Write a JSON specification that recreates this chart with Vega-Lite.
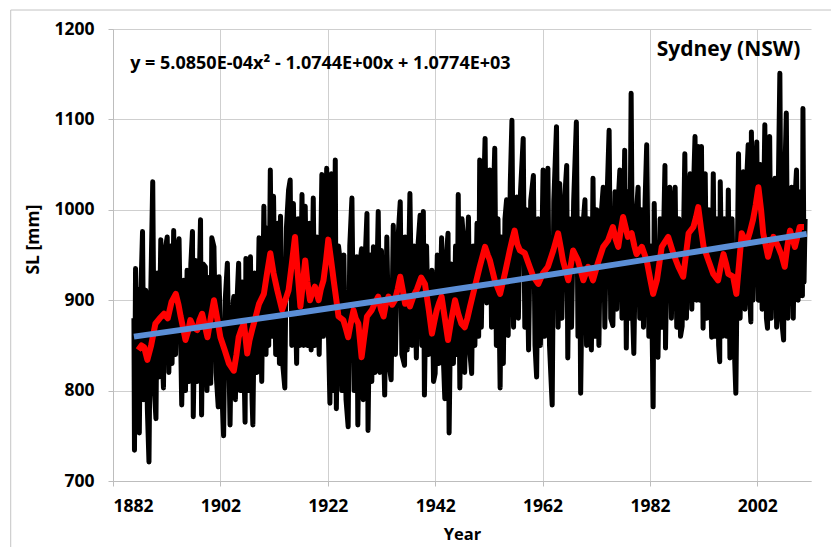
{
  "$schema": "https://vega.github.io/schema/vega-lite/v6.json",
  "width": 698,
  "height": 452,
  "autosize": {"type": "none"},
  "padding": {"left": 113, "top": 29, "right": 20, "bottom": 66},
  "background": "white",
  "datasets": {
    "monthly": [
      {"year":1885.9,"sl":880},{"year":1886.0,"sl":734},{"year":1886.2,"sl":935},{"year":1886.45,"sl":775},{"year":1886.65,"sl":912},{"year":1886.9,"sl":753},
      {"year":1887.15,"sl":900},{"year":1887.5,"sl":976},{"year":1887.75,"sl":790},{"year":1888.1,"sl":911},{"year":1888.4,"sl":780},{"year":1888.7,"sl":721},
      {"year":1888.95,"sl":880},{"year":1889.4,"sl":1031},{"year":1889.7,"sl":800},{"year":1890.0,"sl":769},{"year":1890.25,"sl":930},{"year":1890.55,"sl":815},
      {"year":1890.9,"sl":967},{"year":1891.15,"sl":840},{"year":1891.4,"sl":803},{"year":1891.7,"sl":955},{"year":1892.1,"sl":970},{"year":1892.4,"sl":820},
      {"year":1892.75,"sl":960},{"year":1893.0,"sl":830},{"year":1893.3,"sl":977},{"year":1893.65,"sl":840},{"year":1894.0,"sl":955},{"year":1894.3,"sl":968},
      {"year":1894.8,"sl":784},{"year":1895.2,"sl":922},{"year":1895.5,"sl":800},{"year":1895.8,"sl":933},{"year":1896.2,"sl":810},{"year":1896.5,"sl":940},
      {"year":1896.8,"sl":976},{"year":1896.95,"sl":771},{"year":1897.4,"sl":944},{"year":1897.7,"sl":810},{"year":1898.3,"sl":989},{"year":1898.5,"sl":773},
      {"year":1898.8,"sl":940},{"year":1899.2,"sl":937},{"year":1899.5,"sl":800},{"year":1899.8,"sl":925},{"year":1900.2,"sl":808},{"year":1900.4,"sl":969},
      {"year":1900.8,"sl":959},{"year":1901.2,"sl":820},{"year":1901.6,"sl":782},{"year":1901.75,"sl":926},{"year":1902.2,"sl":810},{"year":1902.6,"sl":750},
      {"year":1902.9,"sl":900},{"year":1903.3,"sl":941},{"year":1903.8,"sl":762},{"year":1904.1,"sl":880},{"year":1904.5,"sl":904},{"year":1904.8,"sl":790},
      {"year":1905.1,"sl":900},{"year":1905.4,"sl":941},{"year":1905.7,"sl":800},{"year":1906.1,"sl":920},{"year":1906.6,"sl":765},{"year":1906.75,"sl":946},
      {"year":1907.1,"sl":800},{"year":1907.6,"sl":948},{"year":1907.9,"sl":790},{"year":1908.05,"sl":762},{"year":1908.4,"sl":930},{"year":1908.8,"sl":820},
      {"year":1909.2,"sl":969},{"year":1909.7,"sl":810},{"year":1910.1,"sl":1004},{"year":1910.5,"sl":840},{"year":1910.8,"sl":980},{"year":1911.0,"sl":850},
      {"year":1911.3,"sl":1044},{"year":1911.6,"sl":860},{"year":1911.9,"sl":1015},{"year":1912.3,"sl":840},{"year":1912.7,"sl":985},{"year":1913.0,"sl":830},
      {"year":1913.2,"sl":993},{"year":1913.6,"sl":830},{"year":1914.0,"sl":803},{"year":1914.3,"sl":980},{"year":1914.7,"sl":1022},{"year":1915.0,"sl":1033},
      {"year":1915.3,"sl":850},{"year":1915.6,"sl":1007},{"year":1916.2,"sl":830},{"year":1916.5,"sl":990},{"year":1916.8,"sl":850},{"year":1917.2,"sl":1017},
      {"year":1917.5,"sl":850},{"year":1917.8,"sl":1004},{"year":1918.2,"sl":850},{"year":1918.6,"sl":985},{"year":1918.9,"sl":845},{"year":1919.3,"sl":1013},
      {"year":1919.6,"sl":850},{"year":1920.0,"sl":970},{"year":1920.4,"sl":840},{"year":1920.9,"sl":1039},{"year":1921.2,"sl":860},{"year":1921.8,"sl":1046},
      {"year":1922.1,"sl":870},{"year":1922.4,"sl":786},{"year":1922.7,"sl":1040},{"year":1923.0,"sl":800},{"year":1923.4,"sl":1055},{"year":1923.6,"sl":780},
      {"year":1924.0,"sl":960},{"year":1924.3,"sl":944},{"year":1924.6,"sl":800},{"year":1925.0,"sl":950},{"year":1925.4,"sl":790},{"year":1925.8,"sl":760},
      {"year":1926.1,"sl":960},{"year":1926.5,"sl":1013},{"year":1926.9,"sl":800},{"year":1927.4,"sl":948},{"year":1927.6,"sl":762},{"year":1928.0,"sl":940},
      {"year":1928.3,"sl":957},{"year":1928.6,"sl":790},{"year":1929.0,"sl":950},{"year":1929.3,"sl":996},{"year":1929.5,"sl":756},{"year":1929.9,"sl":950},
      {"year":1930.2,"sl":810},{"year":1930.5,"sl":959},{"year":1930.8,"sl":820},{"year":1931.4,"sl":998},{"year":1931.7,"sl":820},{"year":1932.0,"sl":955},
      {"year":1932.6,"sl":795},{"year":1933.0,"sl":970},{"year":1933.4,"sl":830},{"year":1933.8,"sl":812},{"year":1934.2,"sl":983},{"year":1934.6,"sl":840},
      {"year":1935.0,"sl":960},{"year":1935.5,"sl":1009},{"year":1935.8,"sl":840},{"year":1936.3,"sl":828},{"year":1936.4,"sl":970},{"year":1936.8,"sl":845},
      {"year":1937.3,"sl":1018},{"year":1937.7,"sl":850},{"year":1938.1,"sl":960},{"year":1938.5,"sl":836},{"year":1938.8,"sl":960},{"year":1939.2,"sl":994},
      {"year":1939.5,"sl":850},{"year":1939.8,"sl":998},{"year":1940.0,"sl":795},{"year":1940.4,"sl":960},{"year":1940.8,"sl":840},{"year":1941.4,"sl":933},
      {"year":1941.7,"sl":810},{"year":1942.0,"sl":819},{"year":1942.4,"sl":950},{"year":1942.7,"sl":830},{"year":1943.2,"sl":969},{"year":1943.5,"sl":840},
      {"year":1943.8,"sl":791},{"year":1944.1,"sl":950},{"year":1944.4,"sl":974},{"year":1944.6,"sl":753},{"year":1945.0,"sl":940},{"year":1945.4,"sl":830},
      {"year":1945.8,"sl":960},{"year":1946.1,"sl":840},{"year":1946.3,"sl":1017},{"year":1946.6,"sl":803},{"year":1947.0,"sl":990},{"year":1947.2,"sl":974},
      {"year":1947.5,"sl":820},{"year":1947.9,"sl":940},{"year":1948.2,"sl":992},{"year":1948.5,"sl":840},{"year":1948.8,"sl":819},{"year":1949.1,"sl":960},
      {"year":1949.4,"sl":850},{"year":1949.8,"sl":985},{"year":1950.1,"sl":860},{"year":1950.3,"sl":1055},{"year":1950.6,"sl":870},{"year":1951.0,"sl":1010},
      {"year":1951.3,"sl":1079},{"year":1951.6,"sl":897},{"year":1951.9,"sl":1020},{"year":1952.2,"sl":1044},{"year":1952.5,"sl":870},{"year":1952.8,"sl":1000},
      {"year":1953.1,"sl":1068},{"year":1953.4,"sl":850},{"year":1953.7,"sl":990},{"year":1954.1,"sl":803},{"year":1954.4,"sl":970},{"year":1954.7,"sl":830},
      {"year":1955.0,"sl":990},{"year":1955.3,"sl":1011},{"year":1955.6,"sl":861},{"year":1956.0,"sl":1030},{"year":1956.3,"sl":1099},{"year":1956.6,"sl":870},
      {"year":1956.9,"sl":1010},{"year":1957.2,"sl":1014},{"year":1957.5,"sl":880},{"year":1957.9,"sl":1020},{"year":1958.4,"sl":1079},{"year":1958.7,"sl":870},
      {"year":1959.0,"sl":1000},{"year":1959.4,"sl":845},{"year":1959.8,"sl":1010},{"year":1960.3,"sl":1038},{"year":1960.6,"sl":850},{"year":1960.9,"sl":815},
      {"year":1961.2,"sl":990},{"year":1961.6,"sl":850},{"year":1962.1,"sl":1044},{"year":1962.4,"sl":860},{"year":1962.7,"sl":990},{"year":1963.0,"sl":1046},
      {"year":1963.3,"sl":850},{"year":1963.8,"sl":784},{"year":1964.1,"sl":1010},{"year":1964.6,"sl":1092},{"year":1964.9,"sl":870},{"year":1965.2,"sl":1029},
      {"year":1965.6,"sl":880},{"year":1966.0,"sl":1000},{"year":1966.5,"sl":1049},{"year":1966.7,"sl":836},{"year":1967.0,"sl":990},{"year":1967.4,"sl":870},
      {"year":1967.8,"sl":1010},{"year":1968.3,"sl":1097},{"year":1968.6,"sl":860},{"year":1968.9,"sl":990},{"year":1969.1,"sl":797},{"year":1969.5,"sl":980},
      {"year":1969.9,"sl":1011},{"year":1970.2,"sl":850},{"year":1970.6,"sl":990},{"year":1970.9,"sl":860},{"year":1971.1,"sl":845},{"year":1971.4,"sl":1035},
      {"year":1971.7,"sl":860},{"year":1972.1,"sl":1000},{"year":1972.5,"sl":850},{"year":1972.8,"sl":985},{"year":1973.3,"sl":1025},{"year":1973.6,"sl":870},
      {"year":1974.0,"sl":1010},{"year":1974.4,"sl":1088},{"year":1974.7,"sl":880},{"year":1975.1,"sl":872},{"year":1975.5,"sl":1020},{"year":1975.8,"sl":890},
      {"year":1976.1,"sl":1010},{"year":1976.4,"sl":1044},{"year":1976.8,"sl":880},{"year":1977.3,"sl":1066},{"year":1977.6,"sl":847},{"year":1977.9,"sl":1020},
      {"year":1978.2,"sl":880},{"year":1978.5,"sl":1129},{"year":1978.8,"sl":880},{"year":1979.0,"sl":841},{"year":1979.4,"sl":990},{"year":1979.8,"sl":1025},
      {"year":1980.1,"sl":880},{"year":1980.5,"sl":1000},{"year":1980.8,"sl":870},{"year":1981.1,"sl":1010},{"year":1981.4,"sl":1072},{"year":1981.8,"sl":860},
      {"year":1982.2,"sl":960},{"year":1982.6,"sl":782},{"year":1982.8,"sl":1007},{"year":1983.2,"sl":850},{"year":1983.5,"sl":837},{"year":1983.9,"sl":990},
      {"year":1984.2,"sl":870},{"year":1984.8,"sl":1049},{"year":1984.9,"sl":847},{"year":1985.3,"sl":1000},{"year":1985.7,"sl":1025},{"year":1986.0,"sl":880},
      {"year":1986.4,"sl":1000},{"year":1986.7,"sl":1025},{"year":1987.0,"sl":870},{"year":1987.4,"sl":990},{"year":1987.7,"sl":860},{"year":1988.0,"sl":871},
      {"year":1988.5,"sl":1062},{"year":1988.8,"sl":880},{"year":1989.2,"sl":1010},{"year":1989.5,"sl":1040},{"year":1989.8,"sl":890},{"year":1990.1,"sl":1020},
      {"year":1990.4,"sl":1081},{"year":1990.7,"sl":900},{"year":1991.0,"sl":1070},{"year":1991.3,"sl":900},{"year":1991.6,"sl":1070},{"year":1991.9,"sl":869},
      {"year":1992.3,"sl":1040},{"year":1992.6,"sl":880},{"year":1993.0,"sl":1000},{"year":1993.5,"sl":859},{"year":1993.8,"sl":1040},{"year":1994.1,"sl":860},
      {"year":1994.5,"sl":990},{"year":1994.8,"sl":850},{"year":1995.0,"sl":832},{"year":1995.1,"sl":1031},{"year":1995.5,"sl":860},{"year":1995.9,"sl":990},
      {"year":1996.3,"sl":860},{"year":1996.6,"sl":1022},{"year":1996.9,"sl":836},{"year":1997.3,"sl":990},{"year":1997.7,"sl":850},{"year":1998.0,"sl":797},
      {"year":1998.5,"sl":1062},{"year":1998.8,"sl":880},{"year":1999.1,"sl":1020},{"year":1999.4,"sl":1042},{"year":1999.7,"sl":890},{"year":2000.0,"sl":1030},
      {"year":2000.3,"sl":1072},{"year":2000.6,"sl":900},{"year":2000.8,"sl":876},{"year":2000.9,"sl":1086},{"year":2001.2,"sl":900},{"year":2001.6,"sl":1040},
      {"year":2001.9,"sl":1075},{"year":2002.2,"sl":900},{"year":2002.6,"sl":1050},{"year":2002.9,"sl":890},{"year":2003.4,"sl":1094},{"year":2003.7,"sl":880},
      {"year":2003.9,"sl":869},{"year":2004.3,"sl":1081},{"year":2004.6,"sl":880},{"year":2005.0,"sl":1010},{"year":2005.3,"sl":1035},{"year":2005.6,"sl":870},
      {"year":2005.9,"sl":1020},{"year":2006.2,"sl":1151},{"year":2006.5,"sl":880},{"year":2006.9,"sl":856},{"year":2007.1,"sl":1030},{"year":2007.4,"sl":1107},
      {"year":2007.7,"sl":880},{"year":2008.0,"sl":1000},{"year":2008.4,"sl":1025},{"year":2008.7,"sl":880},{"year":2009.0,"sl":1010},{"year":2009.3,"sl":1044},
      {"year":2009.6,"sl":900},{"year":2010.0,"sl":1020},{"year":2010.4,"sl":905},{"year":2010.5,"sl":1112},{"year":2010.7,"sl":920},{"year":2010.9,"sl":990}
    ],
    "smoothed": [
      {"year":1886.7,"sl":845},{"year":1887.3,"sl":850},{"year":1887.8,"sl":848},{"year":1888.4,"sl":834},{"year":1889.1,"sl":850},{"year":1889.9,"sl":874},
      {"year":1890.7,"sl":880},{"year":1891.5,"sl":885},{"year":1892.2,"sl":880},{"year":1892.9,"sl":898},{"year":1893.7,"sl":907},{"year":1894.2,"sl":895},
      {"year":1894.6,"sl":882},{"year":1895.1,"sl":868},{"year":1895.5,"sl":856},{"year":1896.0,"sl":866},{"year":1896.4,"sl":878},{"year":1897.0,"sl":870},
      {"year":1897.7,"sl":867},{"year":1898.1,"sl":878},{"year":1898.6,"sl":885},{"year":1899.1,"sl":872},{"year":1899.6,"sl":859},{"year":1900.2,"sl":880},
      {"year":1900.8,"sl":900},{"year":1901.4,"sl":880},{"year":1902.0,"sl":859},{"year":1902.8,"sl":845},{"year":1903.6,"sl":830},{"year":1904.5,"sl":822},
      {"year":1905.0,"sl":840},{"year":1905.4,"sl":859},{"year":1905.9,"sl":868},{"year":1906.4,"sl":874},{"year":1907.0,"sl":841},{"year":1907.4,"sl":855},
      {"year":1907.9,"sl":867},{"year":1908.5,"sl":880},{"year":1909.2,"sl":896},{"year":1910.1,"sl":907},{"year":1910.7,"sl":930},{"year":1911.3,"sl":952},
      {"year":1911.9,"sl":930},{"year":1912.6,"sl":911},{"year":1913.5,"sl":889},{"year":1914.1,"sl":900},{"year":1914.7,"sl":911},{"year":1915.3,"sl":940},
      {"year":1915.9,"sl":970},{"year":1916.4,"sl":930},{"year":1916.9,"sl":893},{"year":1917.3,"sl":915},{"year":1917.8,"sl":944},{"year":1918.2,"sl":920},
      {"year":1918.7,"sl":900},{"year":1919.1,"sl":908},{"year":1919.6,"sl":915},{"year":1920.3,"sl":900},{"year":1920.7,"sl":912},{"year":1921.2,"sl":922},
      {"year":1921.7,"sl":945},{"year":1922.1,"sl":967},{"year":1922.6,"sl":945},{"year":1923.1,"sl":922},{"year":1923.6,"sl":900},{"year":1924.0,"sl":882},
      {"year":1924.9,"sl":878},{"year":1925.4,"sl":868},{"year":1925.8,"sl":859},{"year":1926.3,"sl":875},{"year":1926.8,"sl":889},{"year":1927.2,"sl":880},
      {"year":1927.7,"sl":874},{"year":1928.3,"sl":837},{"year":1928.8,"sl":860},{"year":1929.3,"sl":882},{"year":1930.2,"sl":889},{"year":1930.8,"sl":897},
      {"year":1931.4,"sl":904},{"year":1931.9,"sl":890},{"year":1932.4,"sl":882},{"year":1932.8,"sl":895},{"year":1933.3,"sl":904},{"year":1934.0,"sl":895},
      {"year":1934.5,"sl":900},{"year":1935.0,"sl":912},{"year":1935.5,"sl":926},{"year":1936.0,"sl":910},{"year":1936.4,"sl":896},{"year":1936.9,"sl":900},
      {"year":1937.3,"sl":893},{"year":1938.0,"sl":905},{"year":1938.6,"sl":912},{"year":1939.4,"sl":925},{"year":1940.1,"sl":918},{"year":1940.8,"sl":890},
      {"year":1941.4,"sl":863},{"year":1941.9,"sl":878},{"year":1942.3,"sl":889},{"year":1942.8,"sl":898},{"year":1943.2,"sl":904},{"year":1943.8,"sl":880},
      {"year":1944.4,"sl":856},{"year":1945.0,"sl":878},{"year":1945.7,"sl":900},{"year":1946.3,"sl":885},{"year":1946.9,"sl":874},{"year":1947.5,"sl":870},
      {"year":1948.0,"sl":880},{"year":1948.5,"sl":893},{"year":1949.4,"sl":915},{"year":1950.3,"sl":937},{"year":1950.8,"sl":948},{"year":1951.3,"sl":959},
      {"year":1951.8,"sl":950},{"year":1952.2,"sl":944},{"year":1953.1,"sl":922},{"year":1954.1,"sl":907},{"year":1955.0,"sl":930},{"year":1955.9,"sl":955},
      {"year":1956.4,"sl":968},{"year":1956.8,"sl":977},{"year":1957.3,"sl":962},{"year":1957.8,"sl":955},{"year":1958.7,"sl":952},{"year":1959.6,"sl":937},
      {"year":1960.3,"sl":926},{"year":1961.2,"sl":918},{"year":1962.1,"sl":930},{"year":1963.0,"sl":937},{"year":1964.0,"sl":955},{"year":1964.9,"sl":974},
      {"year":1965.4,"sl":958},{"year":1965.8,"sl":944},{"year":1966.8,"sl":922},{"year":1967.3,"sl":940},{"year":1967.7,"sl":955},{"year":1968.6,"sl":944},
      {"year":1969.6,"sl":922},{"year":1970.5,"sl":937},{"year":1971.4,"sl":922},{"year":1972.3,"sl":941},{"year":1973.3,"sl":959},{"year":1974.2,"sl":966},
      {"year":1975.1,"sl":981},{"year":1975.6,"sl":968},{"year":1976.1,"sl":959},{"year":1976.5,"sl":975},{"year":1977.0,"sl":992},{"year":1977.9,"sl":970},
      {"year":1978.6,"sl":974},{"year":1979.1,"sl":960},{"year":1979.5,"sl":951},{"year":1980.5,"sl":959},{"year":1981.4,"sl":944},{"year":1982.0,"sl":925},
      {"year":1982.6,"sl":907},{"year":1983.3,"sl":922},{"year":1984.2,"sl":959},{"year":1985.4,"sl":970},{"year":1986.4,"sl":951},{"year":1987.3,"sl":937},
      {"year":1988.2,"sl":926},{"year":1988.7,"sl":950},{"year":1989.2,"sl":974},{"year":1990.1,"sl":981},{"year":1990.6,"sl":992},{"year":1991.0,"sl":1003},
      {"year":1991.5,"sl":980},{"year":1992.0,"sl":959},{"year":1992.9,"sl":944},{"year":1993.8,"sl":929},{"year":1994.7,"sl":922},{"year":1995.2,"sl":938},
      {"year":1995.7,"sl":951},{"year":1996.2,"sl":940},{"year":1996.6,"sl":929},{"year":1997.5,"sl":926},{"year":1998.1,"sl":907},{"year":1998.6,"sl":940},
      {"year":1999.1,"sl":974},{"year":2000.0,"sl":963},{"year":2000.6,"sl":975},{"year":2001.2,"sl":989},{"year":2001.7,"sl":1005},{"year":2002.2,"sl":1025},
      {"year":2002.7,"sl":1000},{"year":2003.1,"sl":974},{"year":2004.0,"sl":948},{"year":2005.0,"sl":970},{"year":2005.9,"sl":959},{"year":2006.5,"sl":950},
      {"year":2007.1,"sl":937},{"year":2007.6,"sl":960},{"year":2008.1,"sl":977},{"year":2009.0,"sl":959},{"year":2009.9,"sl":981},{"year":2010.7,"sl":981}
    ],
    "fit": [
      {"year":1885.9,"sl":859.7},{"year":1896,"sl":868.3},{"year":1906,"sl":876.9},{"year":1916,"sl":885.6},{"year":1926,"sl":894.4},
      {"year":1936,"sl":903.3},{"year":1946,"sl":912.3},{"year":1956,"sl":921.4},{"year":1966,"sl":930.6},{"year":1976,"sl":939.9},
      {"year":1986,"sl":949.3},{"year":1996,"sl":958.8},{"year":2006,"sl":968.4},{"year":2011.2,"sl":973.4}
    ]
  },
  "layer": [
    {
      "data": {"values": [{}]},
      "mark": {"type": "rule", "color": "#C4C4C4", "strokeWidth": 1},
      "encoding": {"x": {"datum": 1862.95}, "y": {"datum": 1221}, "y2": {"datum": 600}}
    },
    {
      "data": {"values": [{}]},
      "mark": {"type": "rule", "color": "#C4C4C4", "strokeWidth": 1},
      "encoding": {"x": {"datum": 1862.95}, "x2": {"datum": 2020}, "y": {"datum": 1221}}
    },
    {
      "data": {"name": "monthly"},
      "mark": {"type": "line", "color": "black", "strokeWidth": 5, "strokeJoin": "round"},
      "encoding": {
        "x": {
          "field": "year",
          "type": "quantitative",
          "title": "Year",
          "scale": {"domain": [1882, 2012], "nice": false, "zero": false},
          "axis": {"values": [1882, 1902, 1922, 1942, 1962, 1982, 2002], "format": "d", "labelPadding": 11, "titlePadding": 12}
        },
        "y": {
          "field": "sl",
          "type": "quantitative",
          "title": "SL [mm]",
          "scale": {"domain": [700, 1200], "nice": false, "zero": false},
          "axis": {"values": [700, 800, 900, 1000, 1100, 1200], "format": "d", "labelPadding": 14, "titlePadding": 11, "titleFontSize": 17.5, "titleY": 210}
        }
      }
    },
    {
      "data": {"name": "smoothed"},
      "mark": {"type": "line", "color": "#FF0000", "strokeWidth": 6, "strokeJoin": "round"},
      "encoding": {
        "x": {"field": "year", "type": "quantitative"},
        "y": {"field": "sl", "type": "quantitative"}
      }
    },
    {
      "data": {"name": "fit"},
      "mark": {"type": "line", "color": "#5B8ED6", "strokeWidth": 6},
      "encoding": {
        "x": {"field": "year", "type": "quantitative"},
        "y": {"field": "sl", "type": "quantitative"}
      }
    },
    {
      "data": {"values": [{}]},
      "mark": {"type": "text", "text": "y = 5.0850E-04x² - 1.0744E+00x + 1.0774E+03", "align": "left", "baseline": "middle", "font": "Open Sans", "fontSize": 18, "fontWeight": "bold", "color": "black"},
      "encoding": {"x": {"datum": 1885.2}, "y": {"datum": 1161}}
    },
    {
      "data": {"values": [{}]},
      "mark": {"type": "text", "text": "Sydney (NSW)", "align": "right", "baseline": "middle", "font": "Open Sans", "fontSize": 21, "fontWeight": "bold", "color": "black"},
      "encoding": {"x": {"datum": 2010}, "y": {"datum": 1177}}
    }
  ],
  "config": {
    "view": {"stroke": null},
    "axis": {
      "grid": true,
      "gridColor": "#CFCFCF",
      "domainColor": "#BDBDBD",
      "tickColor": "#BDBDBD",
      "tickSize": 5,
      "labelFont": "Open Sans",
      "labelFontSize": 17.5,
      "labelFontWeight": "bold",
      "labelColor": "black",
      "titleFont": "Open Sans",
      "titleFontSize": 16.5,
      "titleFontWeight": "bold",
      "titleColor": "black"
    }
  }
}
